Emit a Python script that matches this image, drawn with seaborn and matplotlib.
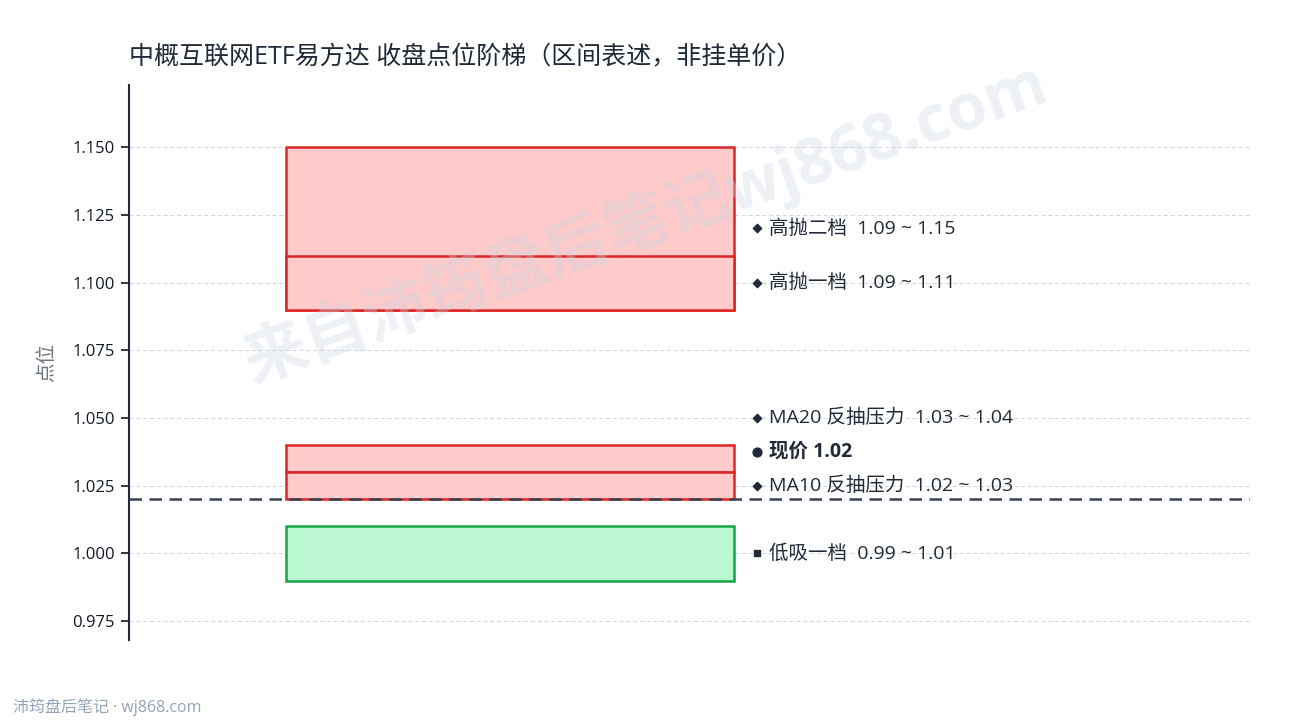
import numpy as np
import pandas as pd
import matplotlib
matplotlib.use("Agg")
import matplotlib.pyplot as plt
import seaborn as sns

# zones (low/high), label anchor heights
zone_names = ["高抛二档", "高抛一档", "MA20 反抽压力", "MA10 反抽压力", "低吸一档"]
zone_low = [1.09, 1.09, 1.03, 1.02, 0.99]
zone_high = [1.15, 1.11, 1.04, 1.03, 1.01]
zone_kind = ["sell", "sell", "resist", "resist", "buy"]
label_y = [1.12, 1.10, 1.05, 1.025, 1.00]

current_price = 1.02
current_label_y = 1.0375

y_ticks = [0.975, 1.000, 1.025, 1.050, 1.075, 1.100, 1.125, 1.150]

title = "中概互联网ETF易方达 收盘点位阶梯（区间表述，非挂单价）"

sns.set_theme(style="white")
plt.rcParams["font.family"] = ["Open Sans", "Noto Sans CJK SC", "DejaVu Sans"]
plt.rcParams["axes.unicode_minus"] = False

TEXT = "#1f2937"
fills = {"sell": "#fecaca", "resist": "#fecaca", "buy": "#bbf7d0"}
edges = {"sell": "#dc2626", "resist": "#dc2626", "buy": "#16a34a"}
markers = {"sell": "D", "resist": "D", "buy": "s"}

df = pd.DataFrame({"name": zone_names, "low": zone_low, "high": zone_high,
                   "kind": zone_kind, "label_y": label_y})

fig = plt.figure(figsize=(12.9, 7.2), dpi=100)
ax = fig.add_axes([0.1, 0.111, 0.869, 0.771])

box_x, box_w = 0.14, 0.40
mark_x, text_x = 0.560, 0.571

for _, r in df.iterrows():
    ax.bar(box_x, r["high"] - r["low"], bottom=r["low"], width=box_w, align="edge",
           color=fills[r["kind"]], edgecolor=edges[r["kind"]], linewidth=1.8, zorder=2)
    ax.scatter(mark_x, r["label_y"], marker=markers[r["kind"]], s=18, color=TEXT, zorder=4)
    ax.text(text_x, r["label_y"], f"{r['name']}  {r['low']:.2f} ~ {r['high']:.2f}",
            va="center", ha="left", fontsize=14, color=TEXT, zorder=4)

ax.axhline(current_price, color="#374151", linestyle=(0, (5, 3)), linewidth=1.8, zorder=3)
ax.scatter(mark_x, current_label_y, marker="o", s=40, color=TEXT, zorder=4)
ax.text(text_x, current_label_y, f"现价 {current_price:.2f}", va="center", ha="left",
        fontsize=14, fontweight="bold", color=TEXT, zorder=4)

ax.set_xlim(0, 1)
ax.set_ylim(0.968, 1.173)
ax.set_yticks(y_ticks)
ax.set_yticklabels([f"{v:.3f}" for v in y_ticks], fontsize=12, color="#111827")
ax.set_xticks([])
ax.tick_params(axis="y", left=True, length=6, width=1.3, color=TEXT, pad=4)
ax.yaxis.grid(True, color="#d1d5db", linestyle=(0, (4, 3)), linewidth=0.7)
ax.set_axisbelow(True)
for s in ["top", "right", "bottom"]:
    ax.spines[s].set_visible(False)
ax.spines["left"].set_color(TEXT)
ax.spines["left"].set_linewidth(1.5)
ax.set_ylabel("点位", fontsize=14, color="#6b7280", labelpad=12)

fig.text(0.1, 0.92, title, fontsize=18, color=TEXT, ha="left", va="center")

# watermark
fig.text(0.5, 0.69, "来自沛筠盘后笔记wj868.com", fontsize=46, fontweight="bold",
         color="#cbd5e1", alpha=0.35, rotation=19.5, ha="center", va="center", zorder=0)

fig.text(0.01, 0.018, "沛筠盘后笔记 · wj868.com", fontsize=11.5, color="#94a3b8",
         ha="left", va="center")

fig.savefig("out.png", dpi=100)
